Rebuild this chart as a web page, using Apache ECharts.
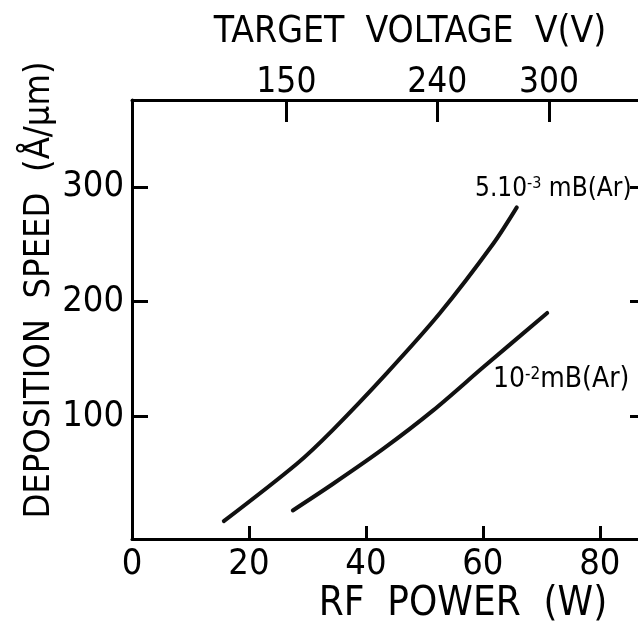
<!DOCTYPE html>
<html><head><meta charset="utf-8">
<script src="https://cdn.jsdelivr.net/npm/echarts@6/dist/echarts.min.js"></script>
<style>html,body{margin:0;padding:0;background:#fff}#c{width:638px;height:629px}</style>
</head><body><div id="c"></div>
<script>
// Bottom axis: RF power (W)
const powerTicks = [0, 20, 40, 60, 80];
// Left axis: deposition speed (Å/µm)
const speedTicks = [100, 200, 300];
// Top axis: target voltage ticks, placed at the RF power where they sit
const voltageTickPower = [26.4, 52.2, 71.3];
const voltageTickLabels = ['150', '240', '300'];
// Curve 5.10^-3 mB (Ar)
const powerA = [15.7, 28.2, 34.4, 43.5, 52.6, 61.8, 65.8];
const speedA = [8.6, 58.7, 88.5, 137.3, 189.7, 250.8, 282.3];
// Curve 10^-2 mB (Ar)
const powerB = [27.5, 34.4, 43.0, 51.5, 60.1, 71.0];
const speedB = [17.9, 41.2, 71.8, 105.2, 143.0, 190.2];
// Labels
const labelA = '5.10{s|-3} mB(Ar)';
const labelB = '10{s|-2}mB(Ar)';
const titleTop = 'TARGET  VOLTAGE  V(V)';
const titleBottom = 'RF  POWER  (W)';
const titleLeft = 'DEPOSITION  SPEED  (Å/μm)';

const FONT = "'DejaVu Sans Condensed', 'Liberation Sans Narrow', sans-serif";
const K = '#000';
const chart = echarts.init(document.getElementById('c'), null, {renderer: 'canvas'});
const pairs = (xs, ys) => xs.map((x, i) => [x, ys[i]]);
const vMap = {};
voltageTickPower.forEach((p, i) => { vMap[p] = voltageTickLabels[i]; });

chart.setOption({
  backgroundColor: '#fff',
  animation: false,
  grid: {left: 132, top: 100, right: -32, bottom: 90, containLabel: false, outerBoundsMode: 'none'},
  xAxis: [{
    type: 'value', position: 'bottom', min: 0, max: 92,
    axisLine: {show: true, onZero: false, lineStyle: {color: K, width: 3}},
    axisTick: {show: true, inside: true, length: 13, lineStyle: {color: K, width: 3}, customValues: powerTicks.filter(v => v > 0)},
    axisLabel: {show: true, customValues: powerTicks, color: K, fontSize: 36, fontFamily: FONT, margin: 8},
    splitLine: {show: false}
  }, {
    type: 'value', position: 'top', min: 0, max: 92,
    axisLine: {show: true, onZero: false, lineStyle: {color: K, width: 3}},
    axisTick: {show: true, inside: true, length: 22, lineStyle: {color: K, width: 3}, customValues: voltageTickPower},
    axisLabel: {show: true, customValues: voltageTickPower, color: K, fontSize: 35, fontFamily: FONT, margin: 0,
      formatter: v => vMap[v] !== undefined ? vMap[v] : ''},
    splitLine: {show: false}
  }],
  yAxis: [{
    type: 'value', position: 'left', min: -7, max: 376,
    axisLine: {show: true, onZero: false, lineStyle: {color: K, width: 3}},
    axisTick: {show: true, inside: true, length: 16, lineStyle: {color: K, width: 3}, customValues: speedTicks},
    axisLabel: {show: true, customValues: speedTicks, color: K, fontSize: 36, fontFamily: FONT, margin: 8},
    splitLine: {show: false}
  }, {
    type: 'value', position: 'right', min: -7, max: 376,
    axisLine: {show: true, onZero: false, lineStyle: {color: K, width: 3}},
    axisTick: {show: true, inside: true, length: 40, lineStyle: {color: K, width: 3}, customValues: speedTicks},
    axisLabel: {show: false},
    splitLine: {show: false}
  }],
  series: [{
    type: 'line', xAxisIndex: 0, yAxisIndex: 0, data: pairs(powerA, speedA),
    smooth: 0.3, symbol: 'none', lineStyle: {color: '#111', width: 4, cap: 'round'}
  }, {
    type: 'line', xAxisIndex: 0, yAxisIndex: 0, data: pairs(powerB, speedB),
    smooth: 0.3, symbol: 'none', lineStyle: {color: '#111', width: 4, cap: 'round'}
  }],
  graphic: [
    {type: 'text', x: 410, y: 32, style: {text: titleTop, font: '37px ' + FONT, fill: K, textAlign: 'center', textVerticalAlign: 'middle'}},
    {type: 'text', x: 463, y: 605, style: {text: titleBottom, font: '40px ' + FONT, fill: K, textAlign: 'center', textVerticalAlign: 'middle'}},
    {type: 'text', x: 40, y: 290, rotation: Math.PI / 2, style: {text: titleLeft, font: '36px ' + FONT, fill: K, textAlign: 'center', textVerticalAlign: 'middle'}},
    {type: 'text', x: 475, y: 176, style: {text: labelA, fontSize: 26, fontFamily: FONT, fill: K, lineHeight: 26,
      rich: {s: {fontSize: 16, fontFamily: FONT, verticalAlign: 'top', lineHeight: 16, fill: K}}}},
    {type: 'text', x: 493, y: 366, style: {text: labelB, fontSize: 28, fontFamily: FONT, fill: K, lineHeight: 28,
      rich: {s: {fontSize: 17, fontFamily: FONT, verticalAlign: 'top', lineHeight: 17, fill: K}}}}
  ]
});
</script></body></html>
